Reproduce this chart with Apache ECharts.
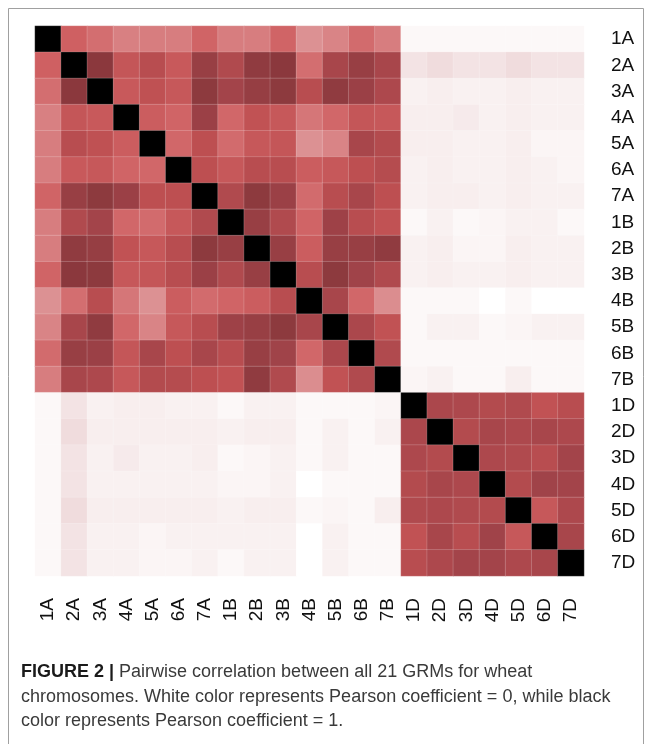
<!DOCTYPE html>
<html>
<head>
<meta charset="utf-8">
<script src="https://cdn.jsdelivr.net/npm/echarts@6/dist/echarts.min.js"></script>
<style>
  html, body { margin: 0; padding: 0; background: #ffffff; }
  #chart { width: 652px; height: 744px; }
</style>
</head>
<body>
<div id="chart"></div>
<script>
// GRM labels, one per wheat chromosome
const chromosomes = ['1A','2A','3A','4A','5A','6A','7A','1B','2B','3B','4B','5B','6B','7B','1D','2D','3D','4D','5D','6D','7D'];

// Pearson coefficients, upper triangle: each row lists the pairs with every later chromosome
const upper_1A = [0.40, 0.36, 0.31, 0.32, 0.32, 0.39, 0.32, 0.32, 0.39, 0.27, 0.30, 0.37, 0.32, 0.02, 0.02, 0.02, 0.02, 0.02, 0.02, 0.02];
const upper_2A = [0.69, 0.46, 0.52, 0.44, 0.64, 0.55, 0.67, 0.69, 0.36, 0.58, 0.64, 0.58, 0.08, 0.10, 0.08, 0.08, 0.10, 0.08, 0.08];
const upper_3A = [0.44, 0.49, 0.45, 0.68, 0.60, 0.65, 0.68, 0.52, 0.67, 0.63, 0.56, 0.04, 0.05, 0.04, 0.04, 0.05, 0.04, 0.04];
const upper_4A = [0.42, 0.39, 0.63, 0.38, 0.48, 0.45, 0.34, 0.38, 0.46, 0.45, 0.05, 0.05, 0.06, 0.04, 0.05, 0.04, 0.04];
const upper_5A = [0.38, 0.50, 0.37, 0.45, 0.46, 0.27, 0.30, 0.58, 0.54, 0.05, 0.05, 0.04, 0.04, 0.05, 0.03, 0.03];
const upper_6A = [0.50, 0.45, 0.52, 0.52, 0.42, 0.45, 0.50, 0.53, 0.04, 0.05, 0.04, 0.04, 0.05, 0.04, 0.03];
const upper_7A = [0.55, 0.68, 0.63, 0.37, 0.52, 0.58, 0.50, 0.04, 0.05, 0.05, 0.04, 0.05, 0.04, 0.04];
const upper_1B = [0.64, 0.55, 0.39, 0.62, 0.52, 0.48, 0.02, 0.04, 0.02, 0.03, 0.04, 0.04, 0.02];
const upper_2B = [0.64, 0.42, 0.64, 0.64, 0.67, 0.04, 0.05, 0.03, 0.03, 0.05, 0.04, 0.04];
const upper_3B = [0.52, 0.68, 0.61, 0.55, 0.04, 0.05, 0.04, 0.04, 0.05, 0.04, 0.04];
const upper_4B = [0.58, 0.38, 0.28, 0.02, 0.02, 0.02, 0.00, 0.02, 0.00, 0.00];
const upper_5B = [0.57, 0.48, 0.02, 0.04, 0.04, 0.02, 0.03, 0.04, 0.04];
const upper_6B = [0.55, 0.02, 0.02, 0.02, 0.02, 0.02, 0.02, 0.02];
const upper_7B = [0.03, 0.04, 0.02, 0.02, 0.05, 0.02, 0.02];
const upper_1D = [0.57, 0.56, 0.54, 0.55, 0.48, 0.52];
const upper_2D = [0.54, 0.58, 0.56, 0.58, 0.56];
const upper_3D = [0.56, 0.55, 0.52, 0.60];
const upper_4D = [0.54, 0.61, 0.60];
const upper_5D = [0.45, 0.56];
const upper_6D = [0.58];
const upper_7D = [];

const upperRows = [upper_1A, upper_2A, upper_3A, upper_4A, upper_5A, upper_6A, upper_7A,
                   upper_1B, upper_2B, upper_3B, upper_4B, upper_5B, upper_6B, upper_7B,
                   upper_1D, upper_2D, upper_3D, upper_4D, upper_5D, upper_6D, upper_7D];

// White (0) through red to black (1), evenly spaced stops
const colorRamp = ['#ffffff', '#f0dcdd', '#e4b0b2', '#d98486', '#cf6062', '#bd4f51',
                   '#a3444a', '#88373b', '#5b2427', '#2d1213', '#000000'];

// Full symmetric matrix as [col, row, value]
const cells = [];
upperRows.forEach((row, i) => {
  cells.push([i, i, 1]);
  row.forEach((v, k) => {
    const j = i + 1 + k;
    cells.push([j, i, v]);
    cells.push([i, j, v]);
  });
});

const labelFont = { fontSize: 19, color: '#111111', fontFamily: '"Liberation Sans", Arial, sans-serif' };
const chart = echarts.init(document.getElementById('chart'), null, { renderer: 'canvas' });

chart.setOption({
  animation: false,
  backgroundColor: '#ffffff',
  grid: { left: 35, top: 26, width: 549, height: 550 },
  xAxis: {
    type: 'category',
    data: chromosomes,
    position: 'bottom',
    axisLine: { show: false },
    axisTick: { show: false },
    splitLine: { show: false },
    axisLabel: Object.assign({ rotate: 90, margin: 22, interval: 0 }, labelFont)
  },
  yAxis: {
    type: 'category',
    data: chromosomes,
    inverse: true,
    position: 'right',
    axisLine: { show: false },
    axisTick: { show: false },
    splitLine: { show: false },
    axisLabel: Object.assign({ margin: 27, interval: 0 }, labelFont)
  },
  visualMap: {
    show: false,
    type: 'continuous',
    min: 0,
    max: 1,
    dimension: 2,
    inRange: { color: colorRamp }
  },
  series: [{
    type: 'heatmap',
    data: cells,
    itemStyle: { borderColor: 'rgba(255,255,255,0.18)', borderWidth: 1 },
    emphasis: { disabled: true }
  }],
  graphic: [
    {
      type: 'rect',
      silent: true,
      shape: { x: 8.5, y: 8.5, width: 635, height: 800 },
      style: { fill: 'none', stroke: '#a0a0a0', lineWidth: 1 }
    },
    {
      type: 'text',
      x: 21, y: 672,
      style: {
        text: '{b|FIGURE 2 |} Pairwise correlation between all 21 GRMs for wheat',
        fill: '#3a3a3a',
        fontSize: 18,
        fontFamily: '"Liberation Sans", Arial, sans-serif',
        verticalAlign: 'middle',
        rich: { b: { fontWeight: 'bold', fill: '#1a1a1a', fontSize: 18, fontFamily: '"Liberation Sans", Arial, sans-serif' } }
      }
    },
    {
      type: 'text',
      x: 21, y: 697,
      style: {
        text: 'chromosomes. White color represents Pearson coefficient = 0, while black',
        fill: '#3a3a3a',
        fontSize: 18,
        fontFamily: '"Liberation Sans", Arial, sans-serif',
        verticalAlign: 'middle'
      }
    },
    {
      type: 'text',
      x: 21, y: 721,
      style: {
        text: 'color represents Pearson coefficient = 1.',
        fill: '#3a3a3a',
        fontSize: 18,
        fontFamily: '"Liberation Sans", Arial, sans-serif',
        verticalAlign: 'middle'
      }
    }
  ]
});
</script>
</body>
</html>
